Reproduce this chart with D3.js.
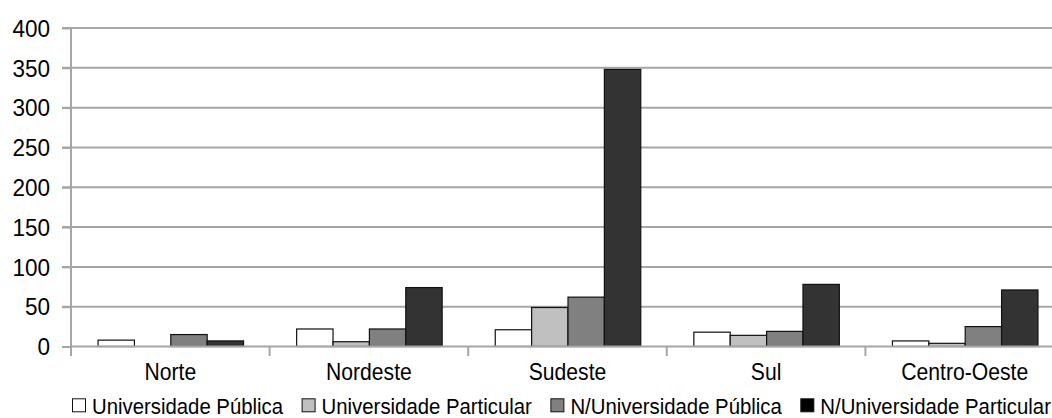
<!DOCTYPE html>
<html><head><meta charset="utf-8">
<script src="https://cdn.jsdelivr.net/npm/d3@7"></script>
<style>
html,body{margin:0;padding:0;background:#fff;}
svg{display:block;}
text{font-family:"Liberation Sans",Arial,sans-serif;fill:#000;}
</style></head>
<body>
<svg id="chart" width="1052" height="418"></svg>
<script>
const categories = ["Norte","Nordeste","Sudeste","Sul","Centro-Oeste"];
const seriesNames = ["Universidade Pública","Universidade Particular","N/Universidade Pública","N/Universidade Particular"];
const uniPublica = [8, 22, 21, 18, 7];
const uniParticular = [0, 6, 49, 14, 4];
const nUniPublica = [15, 22, 62, 19, 25];
const nUniParticular = [7, 74, 348, 78, 71];
const yTicks = [0, 50, 100, 150, 200, 250, 300, 350, 400];
const seriesColors = ["#ffffff", "#c0c0c0", "#808080", "#333333"];
const legendColors = ["#ffffff", "#c0c0c0", "#808080", "#000000"];

const seriesValues = [uniPublica, uniParticular, nUniPublica, nUniParticular];

(function () {
const svg = d3.select("#chart");
const mLeft = 71, mRight = 1064, mTop = 28, mBottom = 346.5;
const fs = 23;
const sqX = 0.885, sqCat = 0.92, sqNum = 0.98;

const x0 = d3.scaleBand().domain(categories).range([mLeft, mRight]).paddingInner(0).paddingOuter(0);
const x1 = d3.scaleBand().domain(seriesNames).range([0, x0.bandwidth()]).paddingInner(0).paddingOuter(0.73);
const y = d3.scaleLinear().domain([0, 400]).range([mBottom, mTop]);

// gridlines
svg.append("g").selectAll("line").data(yTicks.filter(d => d > 0)).join("line")
  .attr("x1", mLeft - 9).attr("x2", 1052)
  .attr("y1", d => y(d)).attr("y2", d => y(d))
  .attr("stroke", "#a6a6a6").attr("stroke-width", 2);

// y axis
const yAxis = d3.axisLeft(y).tickValues(yTicks).tickSize(9).tickPadding(12).tickFormat(d3.format("d"));
const gy = svg.append("g").attr("transform", `translate(${mLeft},0)`).call(yAxis);
gy.select(".domain").remove();
gy.selectAll(".tick line").attr("stroke", "#a6a6a6").attr("stroke-width", 2);
gy.selectAll(".tick text").attr("font-size", fs).attr("dy", "0.36em")
  .attr("x", -21 / sqNum).attr("transform", `scale(${sqNum},1)`);
gy.attr("font-family", null).attr("font-size", null);

svg.append("line").attr("x1", mLeft).attr("x2", mLeft).attr("y1", mTop - 1).attr("y2", mBottom + 9.5)
  .attr("stroke", "#a6a6a6").attr("stroke-width", 2);

// bars
const groups = svg.append("g").selectAll("g").data(categories).join("g")
  .attr("transform", d => `translate(${x0(d)},0)`);
groups.selectAll("rect").data((c, i) => seriesNames.map((s, k) => ({s, k, v: seriesValues[k][i]})))
  .join("rect")
  .attr("x", d => x1(d.s) + 0.5)
  .attr("width", x1.bandwidth())
  .attr("y", d => y(d.v))
  .attr("height", d => y(0) - y(d.v))
  .attr("fill", d => seriesColors[d.k])
  .attr("stroke", "#111").attr("stroke-width", 1.2);

// x axis
const xAxis = d3.axisBottom(x0).tickSize(0).tickPadding(17);
const gx = svg.append("g").attr("transform", `translate(0,${mBottom})`).call(xAxis);
gx.select(".domain").remove();
gx.selectAll(".tick text").attr("font-size", fs).attr("transform", `scale(${sqCat},1)`);
gx.attr("font-family", null).attr("font-size", null);
svg.append("line").attr("x1", mLeft).attr("x2", 1052).attr("y1", mBottom).attr("y2", mBottom)
  .attr("stroke", "#a6a6a6").attr("stroke-width", 2);
svg.append("g").selectAll("line").data(categories.slice(1)).join("line")
  .attr("x1", d => x0(d)).attr("x2", d => x0(d))
  .attr("y1", mBottom).attr("y2", mBottom + 9.5)
  .attr("stroke", "#a6a6a6").attr("stroke-width", 2);

// legend
const lg = svg.append("g");
let lx = 72;
seriesNames.forEach((s, k) => {
  lg.append("rect").attr("x", lx + 0.5).attr("y", 398.8).attr("width", 13).attr("height", 13)
    .attr("fill", legendColors[k]).attr("stroke", "#111").attr("stroke-width", 1);
  const t = lg.append("text")
    .attr("transform", `translate(${lx + 20},413.5) scale(${sqX},1)`)
    .attr("font-size", fs).text(s);
  lx += 20 + t.node().getComputedTextLength() * sqX + 18.5;
});
})();
</script>
</body></html>
